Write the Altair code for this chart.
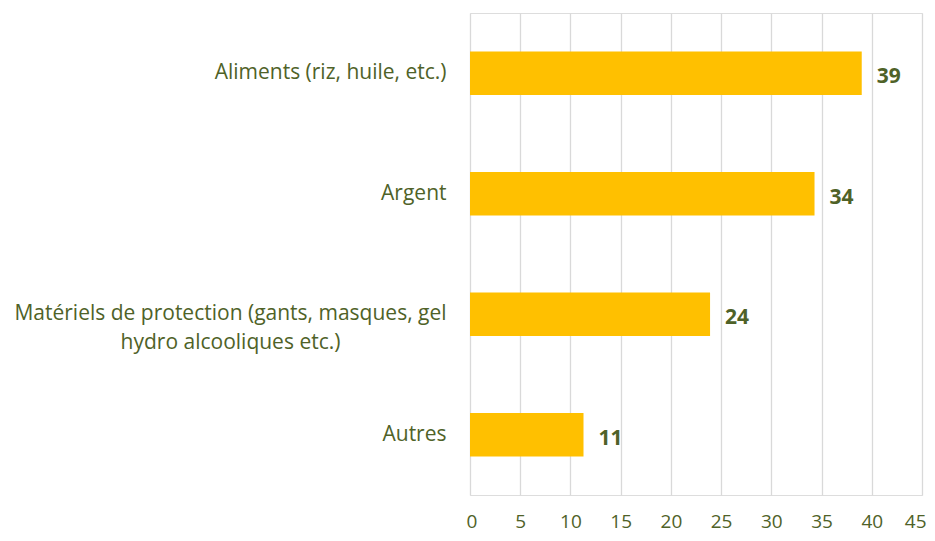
import altair as alt
import pandas as pd

categories = [
    "Aliments (riz, huile, etc.)",
    "Argent",
    "Matériels de protection (gants, masques, gel hydro alcooliques etc.)",
    "Autres",
]
values = [39.0, 34.3, 23.9, 11.3]
labels = ["39", "34", "24", "11"]
x_ticks = [0, 5, 10, 15, 20, 25, 30, 35, 40, 45]

df = pd.DataFrame({"cat": categories, "val": values, "lab": labels})

GREEN = "#4F6228"
FONT = "Open Sans"
LONG = categories[2]

y_enc = alt.Y(
    "cat:N",
    sort=categories,
    title=None,
    scale=alt.Scale(paddingInner=0.64, paddingOuter=0.32),
    axis=alt.Axis(
        domain=False,
        ticks=False,
        grid=False,
        labelColor=GREEN,
        labelFont=FONT,
        labelFontSize=21,
        labelLimit=1000,
        labelPadding={"condition": {"test": f"datum.value == '{LONG}'", "value": 240}, "value": 24},
        labelAlign={"condition": {"test": f"datum.value == '{LONG}'", "value": "center"}, "value": "right"},
        labelExpr=f"datum.value == '{LONG}' ? ['Matériels de protection (gants, masques, gel', 'hydro alcooliques etc.)'] : datum.value",
        labelLineHeight=29,
    ),
)

x_enc = alt.X(
    "val:Q",
    title=None,
    scale=alt.Scale(domain=[0, 45], nice=False),
    axis=alt.Axis(
        values=x_ticks,
        domain=False,
        ticks=False,
        grid=True,
        gridColor="#d9d9d9",
        gridWidth=1.3,
        labelColor=GREEN,
        labelFont=FONT,
        labelFontSize=19,
        labelPadding=17,
        labelFlush=True,
        labelFlushOffset=4,
    ),
)

bars = alt.Chart(df).mark_bar(color="#FFC000").encode(x=x_enc, y=y_enc)

text = alt.Chart(df).mark_text(
    align="left", baseline="middle", dx=15, dy=4,
    font=FONT, fontSize=21, fontWeight="bold", color=GREEN,
).encode(x="val:Q", y=alt.Y("cat:N", sort=categories), text="lab:N")

chart = (
    alt.layer(bars, text)
    .properties(
        width=452,
        height=482,
        autosize=alt.AutoSizeParams(type="none"),
        padding={"left": 462, "top": 5, "right": 5, "bottom": 38},
    )
    .configure_view(stroke=None)
    .configure(background="white")
)

chart.save("out.html", embed_options={"renderer": "svg", "actions": False})
